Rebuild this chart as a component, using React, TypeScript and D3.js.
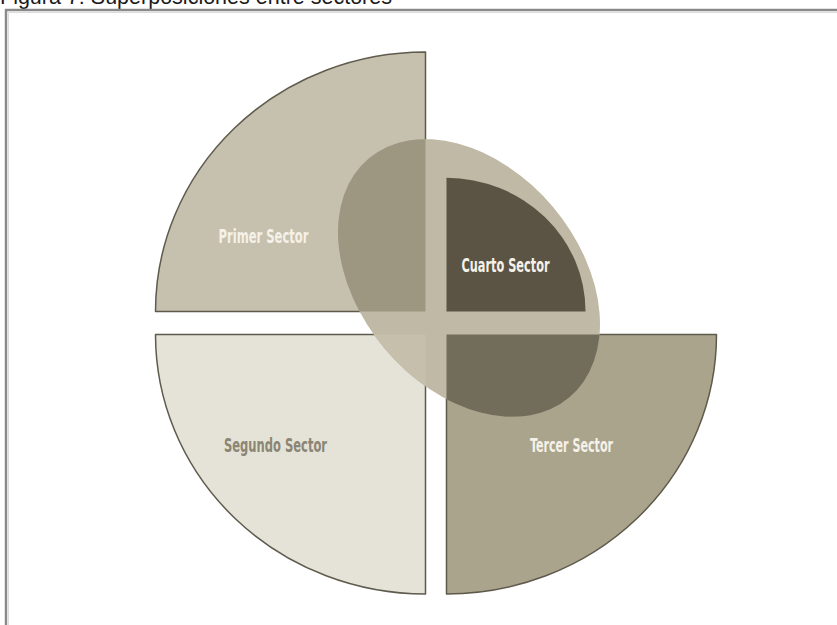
import React from 'react';
import * as d3 from 'd3';

// ---- data ----
const sectorNames: string[] = ['Primer Sector', 'Cuarto Sector', 'Tercer Sector', 'Segundo Sector'];
const sectorValues: number[] = [1, 0.515, 1, 1];            // relative radius
const sectorStartDeg: number[] = [-90, 0, 90, 180];
const sectorEndDeg: number[] = [0, 90, 180, 270];
const titleText = 'Figura 7: Superposiciones entre sectores';

// ---- styles ----
const sectorFill = ['#c6c1ae', '#5b5444', '#aaa48c', '#e5e2d7'];
const overlapFill = ['#9d9781', '', '#726d5a', '#c5bfab'];
const ellipseFill = '#bfb9a5';
const labelFill = ['#f5f1e8', '#f5f1e8', '#f5f1e8', '#8b8674'];

export default function App() {
  const W = 837, H = 625;
  const cx = 436, cy = 323;
  const gapX = 10.5, gapY = 11.5;
  const sy = 259.5 / 270;
  const r = d3.scaleLinear().domain([0, 1]).range([0, 270]);
  const arc = d3.arc<any>();
  const offsets = [[-gapX, -gapY], [gapX, -gapY], [gapX, gapY], [-gapX, gapY]];
  const labelOff = [[-162, -69], [59, -40], [125, 117], [-150, 117]];
  const labelLen = [90, 88, 83, 103];
  const ell = { x: 469, y: 278, rx: 156, ry: 110, rot: 50 };

  const sectors = sectorNames.map((name, i) => {
    const d = arc({
      innerRadius: 0,
      outerRadius: r(sectorValues[i]),
      startAngle: (sectorStartDeg[i] * Math.PI) / 180,
      endAngle: (sectorEndDeg[i] * Math.PI) / 180,
    }) as string;
    const ox = cx + offsets[i][0], oy = cy + offsets[i][1];
    return { name, d, ox, oy, i, transform: `translate(${ox},${oy}) scale(1,${sy})` };
  });

  const ellipseEl = (fill: string) => (
    <ellipse cx={0} cy={0} rx={ell.rx} ry={ell.ry} fill={fill}
      transform={`translate(${ell.x},${ell.y}) rotate(${ell.rot})`} />
  );

  return (
    <svg width={W} height={H} style={{ position: 'absolute', left: 0, top: 0, background: '#fff' }}>
      <defs>
        {sectors.map(s => (
          <clipPath id={`clip-${s.i}`} key={s.i}>
            <path d={s.d} transform={s.transform} />
          </clipPath>
        ))}
      </defs>
      <text x={0} y={4} fontFamily="'Liberation Sans', Arial, sans-serif" fontSize={21.5} fill="#1a1a1a">{titleText}</text>
      <path d={`M6,${H + 5} L6,10 L${W + 5},10`} fill="none" stroke="#8a8a8a" strokeWidth={2.5} />
      <path d={`M8.5,${H + 5} L8.5,12.5 L${W + 5},12.5`} fill="none" stroke="#dcdcdc" strokeWidth={1} />

      {/* outer sectors */}
      {sectors.filter(s => s.i !== 1).map(s => (
        <path key={s.i} d={s.d} transform={s.transform} fill={sectorFill[s.i]}
          stroke="#5e5a4c" strokeWidth={1.5} vectorEffect="non-scaling-stroke" strokeLinejoin="round" />
      ))}

      {/* overlapping ellipse */}
      {ellipseEl(ellipseFill)}
      {sectors.filter(s => s.i !== 1).map(s => (
        <g key={`o${s.i}`} clipPath={`url(#clip-${s.i})`}>
          {ellipseEl(overlapFill[s.i])}
        </g>
      ))}

      {/* inner sector */}
      {sectors.filter(s => s.i === 1).map(s => (
        <path key={s.i} d={s.d} transform={s.transform} fill={sectorFill[s.i]} />
      ))}

      {/* labels */}
      {sectors.map(s => (
        <text key={`t${s.i}`} x={s.ox + labelOff[s.i][0]} y={s.oy + labelOff[s.i][1]}
          textAnchor="middle" fontFamily="'Liberation Sans Narrow', 'Arial Narrow', 'DejaVu Sans Condensed', sans-serif"
          fontWeight="bold" fontSize={20} fill={labelFill[s.i]}
          textLength={labelLen[s.i]} lengthAdjust="spacingAndGlyphs">{s.name}</text>
      ))}
    </svg>
  );
}
